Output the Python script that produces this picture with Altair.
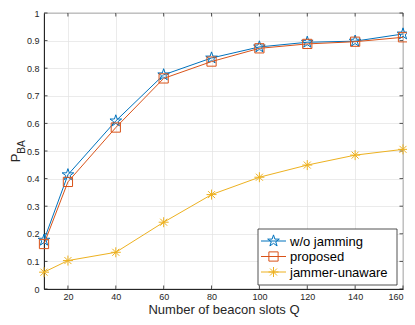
import math
import altair as alt
import pandas as pd

Q = [10, 20, 40, 60, 80, 100, 120, 140, 160]
wo_jamming = [0.177, 0.414, 0.609, 0.776, 0.837, 0.877, 0.894, 0.898, 0.924]
proposed = [0.163, 0.388, 0.585, 0.763, 0.824, 0.872, 0.888, 0.896, 0.912]
jammer_unaware = [0.061, 0.103, 0.133, 0.242, 0.342, 0.405, 0.449, 0.485, 0.506]
series_names = ["w/o jamming", "proposed", "jammer-unaware"]
colors = ["#0072BD", "#D95319", "#EDB120"]
x_ticks = [20, 40, 60, 80, 100, 120, 140, 160]
y_ticks = [0, 0.1, 0.2, 0.3, 0.4, 0.5, 0.6, 0.7, 0.8, 0.9, 1]

# marker shapes (SVG paths in the unit square)
pts = []
for k in range(10):
    r = 1.0 if k % 2 == 0 else 0.382
    a = math.radians(-90 + 36 * k)
    pts.append(f"{r * math.cos(a):.3f},{r * math.sin(a):.3f}")
STAR = "M" + "L".join(pts) + "Z"
ASTER = "M-1,0L1,0M0,-1L0,1M-0.7,-0.7L0.7,0.7M-0.7,0.7L0.7,-0.7"
shapes = [STAR, "square", ASTER]
sizes = [150, 85, 100]

W, H = 359, 276
FONT = "Liberation Sans"
DARK = "#262626"

xs = alt.Scale(domain=[10, 160], nice=False, zero=False)
ys = alt.Scale(domain=[0, 1], nice=False)

xaxis = alt.Axis(values=x_ticks, labelFontSize=9, labelColor=DARK, labelFont=FONT,
                 ticks=False, domainColor=DARK, gridColor="#e3e3e3", gridWidth=0.7,
                 title="Number of beacon slots Q", titleFontSize=13, titleFont=FONT,
                 titleColor=DARK, titleFontWeight="normal", titlePadding=2, labelPadding=3)
yaxis = alt.Axis(values=y_ticks, labelFontSize=9, labelColor=DARK, labelFont=FONT,
                 ticks=False, domainColor=DARK, gridColor="#e3e3e3", gridWidth=0.7,
                 title="", labelPadding=5, format="~g", labelOverlap=False)


def X(f):
    return alt.X(f, scale=xs, axis=xaxis)


def Y(f):
    return alt.Y(f, scale=ys, axis=yaxis)


layers = []

# inward ticks
xt = pd.DataFrame({"x": x_ticks})
yt = pd.DataFrame({"y": y_ticks})
TL = 3.5
layers.append(alt.Chart(xt).mark_rule(color=DARK, strokeWidth=0.8).encode(
    x=X("x:Q"), y=alt.value(H), y2=alt.value(H - TL)))
layers.append(alt.Chart(xt).mark_rule(color=DARK, strokeWidth=0.8).encode(
    x=X("x:Q"), y=alt.value(0), y2=alt.value(TL)))
layers.append(alt.Chart(yt).mark_rule(color=DARK, strokeWidth=0.8).encode(
    y=Y("y:Q"), x=alt.value(0), x2=alt.value(TL)))
layers.append(alt.Chart(yt).mark_rule(color=DARK, strokeWidth=0.8).encode(
    y=Y("y:Q"), x=alt.value(W), x2=alt.value(W - TL)))

for name, vals, col, shp, sz in zip(series_names, [wo_jamming, proposed, jammer_unaware], colors, shapes, sizes):
    df = pd.DataFrame({"Q": Q, "P": vals})
    layers.append(alt.Chart(df).mark_line(color=col, strokeWidth=1).encode(
        x=X("Q:Q"), y=Y("P:Q")))
    layers.append(alt.Chart(df).mark_point(color=col, shape=shp, size=sz, filled=False,
                                           strokeWidth=1, opacity=1).encode(
        x=X("Q:Q"), y=Y("P:Q")))

# legend box
LX0, LX1, LY0, LY1 = 214, 353, 216, 272
layers.append(alt.Chart(pd.DataFrame({"a": [0]})).mark_rect(
    fill="white", stroke=DARK, strokeWidth=0.8).encode(
    x=alt.value(LX0), x2=alt.value(LX1), y=alt.value(LY0), y2=alt.value(LY1)))
row_y = [LY0 + 12, LY0 + 27.5, LY0 + 43]
for name, col, shp, sz, ry in zip(series_names, colors, shapes, sizes, row_y):
    d = pd.DataFrame({"name": [name]})
    layers.append(alt.Chart(d).mark_rule(color=col, strokeWidth=1).encode(
        x=alt.value(LX0 + 3), x2=alt.value(LX0 + 28), y=alt.value(ry)))
    layers.append(alt.Chart(d).mark_point(color=col, shape=shp, size=sz, filled=False,
                                          strokeWidth=1, opacity=1).encode(
        x=alt.value(LX0 + 15.5), y=alt.value(ry)))
    layers.append(alt.Chart(d).mark_text(align="left", baseline="middle", fontSize=13,
                                         font=FONT, color="black").encode(
        x=alt.value(LX0 + 32), y=alt.value(ry + 0.5), text="name:N"))

# y title P_BA
layers.append(alt.Chart(pd.DataFrame({"t": ["P"]})).mark_text(
    angle=270, fontSize=13, font=FONT, color=DARK, align="center", baseline="middle").encode(
    x=alt.value(-28), y=alt.value(145), text="t:N"))
layers.append(alt.Chart(pd.DataFrame({"t": ["BA"]})).mark_text(
    angle=270, fontSize=10, font=FONT, color=DARK, align="center", baseline="middle").encode(
    x=alt.value(-22), y=alt.value(134), text="t:N"))

chart = alt.layer(*layers).properties(
    width=W, height=H,
    autosize=alt.AutoSizeParams(type="none"),
    padding={"left": 36, "top": 5, "right": 4, "bottom": 28},
    background="white",
).configure_view(stroke=DARK, strokeWidth=0.8)

chart.save("out.html", embed_options={"renderer": "svg", "actions": False})
